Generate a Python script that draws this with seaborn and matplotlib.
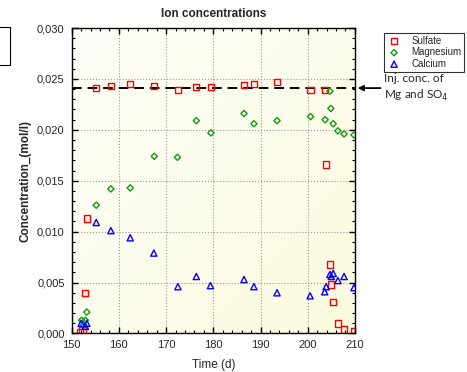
import numpy as np
import pandas as pd
import matplotlib
matplotlib.use("Agg")
import matplotlib.pyplot as plt
from matplotlib.ticker import MultipleLocator
from matplotlib.colors import LinearSegmentedColormap
from matplotlib.patches import Rectangle
import seaborn as sns

# Measured ion concentrations (mol/l) versus time (d)
sulfate_t = [151.8, 152.3, 152.8, 153.2, 155.2, 158.3, 162.4, 167.4, 172.5, 176.3,
             179.5, 186.5, 188.6, 193.5, 200.6, 203.7, 203.9, 204.7, 204.9, 205.4,
             206.4, 207.7, 209.8]
sulfate_c = [0.0001, 0.0003, 0.0040, 0.0113, 0.0241, 0.0243, 0.0245, 0.0243, 0.0239, 0.0242,
             0.0242, 0.0244, 0.0245, 0.0247, 0.0239, 0.0239, 0.0166, 0.0068, 0.0048, 0.0031,
             0.0010, 0.0004, 0.0002]

magnesium_t = [152.1, 152.5, 152.9, 153.2, 155.2, 158.3, 162.4, 167.5, 172.4, 176.4,
               179.5, 186.5, 188.6, 193.5, 200.6, 203.7, 204.7, 204.9, 205.4, 206.4,
               207.7, 209.8]
magnesium_c = [0.0013, 0.0008, 0.0013, 0.0021, 0.0126, 0.0142, 0.0143, 0.0174, 0.0173, 0.0209,
               0.0197, 0.0216, 0.0206, 0.0209, 0.0213, 0.0210, 0.0238, 0.0221, 0.0206, 0.0199,
               0.0196, 0.0195]

calcium_t = [152.0, 152.9, 153.2, 155.2, 158.3, 162.4, 167.4, 172.5, 176.4, 179.4,
             186.5, 188.6, 193.5, 200.5, 203.6, 203.9, 204.7, 205.0, 205.4, 206.4,
             207.7, 209.8]
calcium_c = [0.0010, 0.0007, 0.0010, 0.0109, 0.0101, 0.0094, 0.0079, 0.0046, 0.0056, 0.0047,
             0.0053, 0.0046, 0.0040, 0.0037, 0.0041, 0.0046, 0.0058, 0.0056, 0.0059, 0.0052,
             0.0056, 0.0045]

injected_conc = 0.0241
series_names = ["Sulfate", "Magnesium", "Calcium"]

df = pd.concat([
    pd.DataFrame({"t": sulfate_t, "c": sulfate_c, "ion": "Sulfate"}),
    pd.DataFrame({"t": magnesium_t, "c": magnesium_c, "ion": "Magnesium"}),
    pd.DataFrame({"t": calcium_t, "c": calcium_c, "ion": "Calcium"}),
])

sns.set_style("ticks")
plt.rcParams["font.family"] = ["Liberation Sans", "DejaVu Sans"]

fig = plt.figure(figsize=(4.67, 3.72), dpi=100)
ax = fig.add_axes([0.1535, 0.1035, 0.6065, 0.8212])

# pale yellow backdrop shading towards lower right
cmap = LinearSegmentedColormap.from_list("bg", ["#fefef9", "#fbfbdf"])
gy, gx = np.mgrid[0:1:100j, 0:1:100j]
ax.imshow((gx + gy) / 2, extent=[0, 1, 0, 1], transform=ax.transAxes,
          cmap=cmap, aspect="auto", zorder=0, origin="upper")

styles = {
    "Sulfate": dict(marker="s", color="#ff0000", s=22),
    "Magnesium": dict(marker="D", color="#119911", s=10),
    "Calcium": dict(marker="^", color="#0000ff", s=20),
}
for name in series_names:
    st = styles[name]
    sub = df[df["ion"] == name]
    sns.scatterplot(data=sub, x="t", y="c", ax=ax, marker=st["marker"], s=st["s"],
                    facecolors="none", edgecolor=st["color"], linewidth=1.0,
                    label=name, zorder=3)

ax.axhline(injected_conc, color="black", linestyle=(0, (5, 3)), linewidth=1.4, zorder=2)

ax.set_xlim(150, 210)
ax.set_ylim(0, 0.030)
ax.xaxis.set_major_locator(MultipleLocator(10))
ax.xaxis.set_minor_locator(MultipleLocator(2))
ax.yaxis.set_major_locator(MultipleLocator(0.005))
ax.yaxis.set_minor_locator(MultipleLocator(0.001))
ax.set_yticks(ax.get_yticks())
ax.set_yticklabels([f"{v:.3f}".replace(".", ",") for v in ax.get_yticks()])
ax.set_ylim(0, 0.030)
ax.tick_params(which="both", direction="in", top=True, right=True, labelsize=8, color="black")
ax.tick_params(which="major", length=4, width=1, pad=5)
ax.tick_params(which="minor", length=2.5, width=0.8)
ax.grid(True, which="major", linestyle=":", color="#999999", linewidth=0.8)
ax.set_axisbelow(True)
for sp in ax.spines.values():
    sp.set_color("black")
    sp.set_linewidth(1.0)

ax.set_title("Ion concentrations", fontsize=8.5, fontweight="bold", pad=8)
ax.set_xlabel("Time (d)", fontsize=8.5, labelpad=6)
ax.set_ylabel("Concentration_(mol/l)", fontsize=8.5, fontweight="bold")

leg = ax.legend(loc="upper left", bbox_to_anchor=(1.085, 1.0), fontsize=7,
                frameon=True, fancybox=False, edgecolor="black", borderpad=0.3,
                handletextpad=1.0, labelspacing=0.15, handlelength=1.5)
leg.get_frame().set_linewidth(0.8)

ax.annotate("", xy=(1.0, injected_conc), xycoords=("axes fraction", "data"),
            xytext=(1.1, injected_conc), textcoords=("axes fraction", "data"),
            arrowprops=dict(arrowstyle="-|>", color="black", lw=1.3, mutation_scale=8),
            annotation_clip=False)
fig.text(0.822, 0.763, "Inj. conc. of\nMg and SO$_4$", fontsize=8.5, family="Lato",
         va="center", ha="left", linespacing=1.3)

# small frame at the left edge
fig.patches.append(Rectangle((-0.01, 0.825), 0.032, 0.102, transform=fig.transFigure,
                             fill=False, edgecolor="black", linewidth=0.8))

fig.savefig("out.png", dpi=100)
